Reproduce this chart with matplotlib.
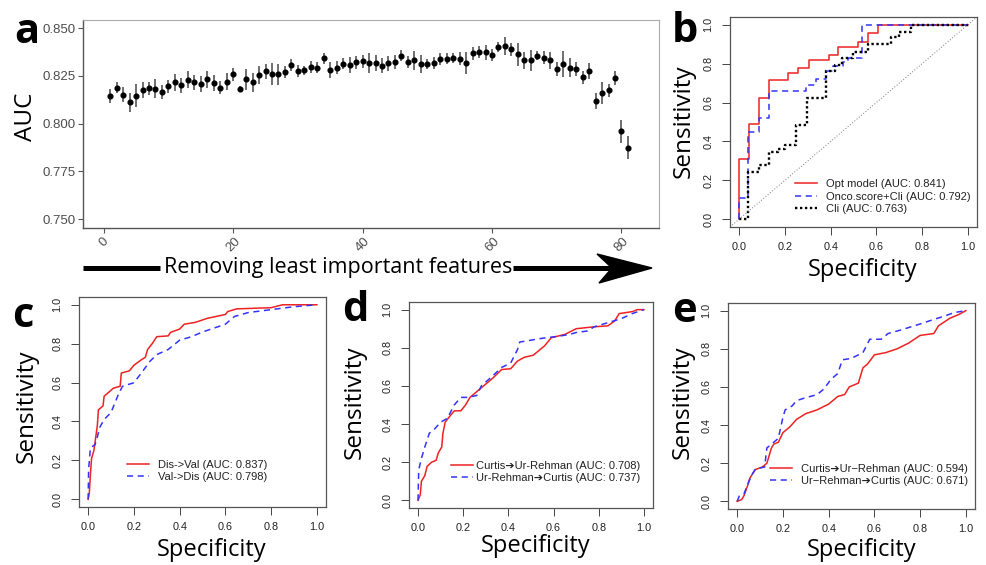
import matplotlib
matplotlib.use("Agg")
import matplotlib.pyplot as plt
from matplotlib.lines import Line2D
from matplotlib.patches import Polygon

# ---------------- data ----------------
n_features = list(range(1, 82))
auc_mean = [0.8146,0.8188,0.8151,0.8111,0.8146,0.8175,0.8184,0.8182,0.8163,0.8194,
            0.8215,0.8200,0.8229,0.8215,0.8207,0.8231,0.8212,0.8188,0.8220,0.8257,
            0.8182,0.8231,0.8215,0.8253,0.8274,0.8260,0.8259,0.8269,0.8306,0.8274,
            0.8278,0.8295,0.8293,0.8342,0.8280,0.8293,0.8314,0.8306,0.8321,0.8325,
            0.8316,0.8319,0.8302,0.8316,0.8321,0.8356,0.8321,0.8330,0.8313,0.8311,
            0.8318,0.8337,0.8340,0.8342,0.8340,0.8319,0.8368,0.8375,0.8373,0.8359,
            0.8403,0.8405,0.8389,0.8363,0.8330,0.8330,0.8356,0.8345,0.8330,0.8286,
            0.8311,0.8293,0.8285,0.8241,0.8274,0.8120,0.8160,0.8174,0.8238,0.7960,0.7873]
auc_err = [0.0037,0.0028,0.0039,0.0050,0.0060,0.0040,0.0033,0.0050,0.0037,0.0035,
           0.0046,0.0040,0.0044,0.0040,0.0042,0.0044,0.0040,0.0035,0.0046,0.0032,
           0.0015,0.0054,0.0050,0.0048,0.0040,0.0057,0.0055,0.0033,0.0030,0.0032,
           0.0022,0.0033,0.0030,0.0028,0.0042,0.0032,0.0028,0.0040,0.0035,0.0035,
           0.0052,0.0042,0.0040,0.0040,0.0037,0.0030,0.0031,0.0048,0.0048,0.0025,
           0.0030,0.0030,0.0030,0.0026,0.0035,0.0058,0.0033,0.0030,0.0040,0.0032,
           0.0026,0.0046,0.0033,0.0060,0.0042,0.0057,0.0024,0.0035,0.0044,0.0035,
           0.0070,0.0052,0.0035,0.0032,0.0042,0.0042,0.0060,0.0035,0.0035,0.0060,0.0060]
a_xticks = [0, 20, 40, 60, 80]
a_yticks = [0.750, 0.775, 0.800, 0.825, 0.850]

# panel b (step curves)
b_opt_x = [0, 0, 0.045, 0.088, 0.13, 0.214, 0.258, 0.304, 0.392, 0.434, 0.52, 0.563, 0.605, 1.0]
b_opt_y = [0, 0.31, 0.49, 0.626, 0.714, 0.754, 0.78, 0.82, 0.844, 0.887, 0.913, 0.957, 1.0, 1.0]
b_onco_x = [0, 0, 0.04, 0.087, 0.13, 0.294, 0.337, 0.378, 0.41, 0.453, 0.475, 0.537, 1.0]
b_onco_y = [0, 0.107, 0.448, 0.522, 0.657, 0.689, 0.72, 0.76, 0.79, 0.81, 0.83, 1.0, 1.0]
b_cli_x = [0, 0.04, 0.087, 0.13, 0.17, 0.2, 0.25, 0.295, 0.378, 0.42, 0.45, 0.5, 0.565, 0.665, 0.7, 0.75, 1.0]
b_cli_y = [0, 0.242, 0.277, 0.348, 0.36, 0.384, 0.483, 0.623, 0.761, 0.794, 0.83, 0.862, 0.9, 0.935, 0.965, 1.0, 1.0]
b_labels = ["Opt model (AUC: 0.841)", "Onco.score+Cli (AUC: 0.792)", "Cli (AUC: 0.763)"]

# panel c
c_red_x = [0,0.005,0.01,0.015,0.025,0.04,0.045,0.065,0.07,0.09,0.11,0.14,0.145,0.18,0.2,0.23,0.25,
           0.26,0.28,0.3,0.35,0.36,0.4,0.42,0.47,0.52,0.56,0.6,0.61,0.65,0.8,0.85,1.0]
c_red_y = [0,0.03,0.13,0.21,0.25,0.377,0.46,0.48,0.53,0.55,0.571,0.581,0.649,0.66,0.689,0.715,0.73,
           0.77,0.80,0.836,0.84,0.858,0.875,0.90,0.91,0.93,0.94,0.95,0.965,0.979,0.985,1.0,1.0]
c_blue_x = [0,0.002,0.01,0.03,0.04,0.05,0.07,0.1,0.13,0.15,0.2,0.23,0.27,0.3,0.35,0.4,0.45,0.5,
            0.6,0.64,0.7,0.8,0.9,1.0]
c_blue_y = [0,0.152,0.265,0.28,0.32,0.368,0.41,0.446,0.533,0.581,0.599,0.645,0.709,0.744,0.77,
            0.818,0.835,0.86,0.9,0.94,0.96,0.975,0.99,1.0]
c_labels = ["Dis->Val (AUC: 0.837)", "Val->Dis (AUC: 0.798)"]

# panel d
d_red_x = [0,0.01,0.015,0.03,0.04,0.06,0.08,0.09,0.105,0.11,0.12,0.14,0.16,0.19,0.21,0.23,0.26,0.29,
           0.33,0.37,0.41,0.44,0.47,0.51,0.56,0.59,0.65,0.7,0.78,0.84,0.87,0.89,0.95,0.97,1.0]
d_red_y = [0,0.03,0.1,0.13,0.178,0.2,0.21,0.25,0.28,0.35,0.41,0.44,0.469,0.47,0.5,0.54,0.57,0.6,
           0.64,0.686,0.69,0.73,0.75,0.761,0.81,0.853,0.87,0.9,0.91,0.915,0.94,0.979,0.99,1.0,1.0]
d_blue_x = [0,0.003,0.015,0.03,0.05,0.07,0.1,0.13,0.16,0.19,0.22,0.26,0.28,0.33,0.37,0.41,0.44,0.45,
            0.5,0.55,0.62,0.67,0.7,0.75,0.78,0.85,0.9,0.95,1.0]
d_blue_y = [0,0.16,0.22,0.28,0.352,0.37,0.41,0.43,0.5,0.54,0.54,0.55,0.6,0.652,0.697,0.72,0.79,0.83,
            0.84,0.85,0.86,0.87,0.88,0.888,0.91,0.935,0.953,0.98,1.0]
d_labels = ["Curtis\u2794Ur-Rehman (AUC: 0.708)", "Ur-Rehman\u2794Curtis (AUC: 0.737)"]

# panel e
e_red_x = [0,0.02,0.03,0.045,0.055,0.07,0.08,0.11,0.13,0.15,0.16,0.18,0.2,0.23,0.26,0.3,0.35,0.4,
           0.44,0.47,0.49,0.53,0.55,0.57,0.6,0.65,0.7,0.75,0.8,0.86,0.88,0.93,0.97,1.0]
e_red_y = [0,0.01,0.03,0.08,0.12,0.15,0.167,0.18,0.2,0.28,0.3,0.31,0.36,0.39,0.43,0.46,0.48,0.51,
           0.55,0.56,0.6,0.62,0.7,0.72,0.768,0.78,0.8,0.83,0.87,0.88,0.92,0.96,0.98,1.0]
e_blue_x = [0,0.01,0.03,0.05,0.065,0.08,0.12,0.13,0.16,0.18,0.2,0.21,0.24,0.26,0.29,0.35,0.38,0.41,
            0.44,0.46,0.5,0.55,0.58,0.63,0.66,0.72,0.8,0.85,0.9,0.95,1.0]
e_blue_y = [0,0.03,0.04,0.1,0.14,0.17,0.18,0.28,0.31,0.33,0.44,0.48,0.5,0.528,0.54,0.56,0.59,0.64,
            0.67,0.742,0.75,0.78,0.85,0.85,0.88,0.9,0.93,0.95,0.969,0.99,1.0]
e_labels = ["Curtis\u2794Ur\u2212Rehman (AUC: 0.594)", "Ur\u2212Rehman\u2794Curtis (AUC: 0.671)"]

roc_ticks = [0.0, 0.2, 0.4, 0.6, 0.8, 1.0]

# ---------------- style ----------------
W, H = 987, 565
RFONT = ["Liberation Sans", "DejaVu Sans"]
BIG = ["Open Sans", "DejaVu Sans"]
RED = "#EE2222"
BLUE = "#3333FF"

fig = plt.figure(figsize=(W / 100, H / 100), dpi=100)


def rect(l, r, t, b):
    return [l / W, 1 - b / H, (r - l) / W, (b - t) / H]


def fx(x):
    return x / W


def fy(y):
    return 1 - y / H


# ---------------- panel a ----------------
axa = fig.add_axes(rect(83, 659, 20, 228))
axa.errorbar(n_features, auc_mean, yerr=auc_err, fmt="o", color="black", ms=3.4,
             ecolor="#555555", elinewidth=1.2, capsize=0)
axa.set_xlim(-3.2, 85.8)
axa.set_ylim(0.7453, 0.8542)
axa.set_xticks(a_xticks)
axa.set_yticks(a_yticks)
axa.set_yticklabels([f"{v:.3f}" for v in a_yticks], family=RFONT, fontsize=9.5, color="#4D4D4D")
axa.set_xticklabels([str(v) for v in a_xticks], family=RFONT, fontsize=9.5, color="#4D4D4D",
                    rotation=45, ha="center", va="top")
axa.tick_params(axis="both", length=3.5, width=0.8, color="#555555", pad=2)
for s in ["left", "bottom"]:
    axa.spines[s].set_color("#555555")
    axa.spines[s].set_linewidth(1.0)
for s in ["top", "right"]:
    axa.spines[s].set_color("#AAAAAA")
    axa.spines[s].set_linewidth(0.8)

fig.text(fx(26), fy(117), "AUC", rotation=90, ha="center", va="center", family=BIG, fontsize=17.5)
fig.text(fx(338), fy(268), "Removing least important features", ha="center", va="center",
         family=BIG, fontsize=15.5)
fig.add_artist(Line2D([fx(83), fx(160)], [fy(268), fy(268)], color="black", lw=3.6,
                      solid_capstyle="butt"))
fig.add_artist(Line2D([fx(513), fx(615)], [fy(268), fy(268)], color="black", lw=3.6,
                      solid_capstyle="butt"))
fig.add_artist(Polygon([(fx(597), fy(254)), (fx(652), fy(268)), (fx(599), fy(283)), (fx(612), fy(268))],
                       closed=True, facecolor="black", edgecolor="black", transform=fig.transFigure))


# ---------------- ROC helper ----------------
def roc_axes(r):
    ax = fig.add_axes(r)
    ax.set_xlim(-0.04, 1.04)
    ax.set_ylim(-0.04, 1.04)
    ax.set_xticks(roc_ticks)
    ax.set_yticks(roc_ticks)
    ax.set_xticklabels([f"{v:.1f}" for v in roc_ticks], family=RFONT, fontsize=7.8, color="#222222")
    ax.set_yticklabels([f"{v:.1f}" for v in roc_ticks], family=RFONT, fontsize=7.8, color="#222222",
                       rotation=90, va="center")
    ax.tick_params(axis="x", length=6, width=0.7, color="#444444", pad=4.5)
    ax.tick_params(axis="y", length=6, width=0.7, color="#444444", pad=6)
    for s in ax.spines.values():
        s.set_color("#555555")
        s.set_linewidth(0.9)
    return ax


def legend(ax, labels, x, y, textpad=0.8):
    leg = ax.legend(labels=labels, handles=ax.get_lines()[:len(labels)], loc="center left",
                    bbox_to_anchor=(x, y), frameon=False, borderpad=0, borderaxespad=0,
                    handlelength=2.0, handletextpad=textpad, labelspacing=0.22,
                    prop={"family": RFONT, "size": 8})
    for t in leg.get_texts():
        t.set_color("#222222")
    return leg


def labels(sx, sy, px, py):
    fig.text(fx(sx), fy(sy), "Sensitivity", rotation=90, ha="center", va="center",
             family=BIG, fontsize=17.5)
    fig.text(fx(px), fy(py), "Specificity", ha="center", va="baseline", family=BIG, fontsize=17)


# ---------------- panel b ----------------
axb = roc_axes(rect(730, 977, 17, 227))
axb.plot(b_opt_x, b_opt_y, drawstyle="steps-post", color=RED, lw=1.1)
axb.plot(b_onco_x, b_onco_y, drawstyle="steps-post", color=BLUE, lw=1.1, dashes=(4, 3))
axb.plot(b_cli_x, b_cli_y, drawstyle="steps-post", color="black", lw=1.7, dashes=(1, 1.1))
axb.axline((0, 0), (1, 1), color="#777777", lw=0.7, ls=(0, (1, 2)))
legend(axb, b_labels, 0.263, 0.145)
labels(684, 121, 863, 276)

# ---------------- panel c ----------------
axc = roc_axes(rect(79, 326, 297, 507))
axc.plot(c_red_x, c_red_y, color=RED, lw=1.1)
axc.plot(c_blue_x, c_blue_y, color=BLUE, lw=1.1, dashes=(4, 3))
legend(axc, c_labels, 0.194, 0.171)
labels(27, 406, 212, 556)

# ---------------- panel d ----------------
axd = roc_axes(rect(409, 653, 302, 508))
axd.plot(d_red_x, d_red_y, color=RED, lw=1.1)
axd.plot(d_blue_x, d_blue_y, color=BLUE, lw=1.1, dashes=(4, 3))
legend(axd, d_labels, 0.171, 0.175, textpad=0.3)
labels(355, 402, 536, 552)

# ---------------- panel e ----------------
axe = roc_axes(rect(728, 975, 303, 509))
axe.plot(e_red_x, e_red_y, color=RED, lw=1.1)
axe.plot(e_blue_x, e_blue_y, color=BLUE, lw=1.1, dashes=(4, 3))
legend(axe, e_labels, 0.170, 0.165)
labels(683, 402, 862, 556)

# ---------------- panel letters ----------------
for letter, x, y in [("a", 14, 43), ("b", 672, 42), ("c", 12, 327), ("d", 342, 321), ("e", 672, 322)]:
    fig.text(fx(x), fy(y), letter, ha="left", va="baseline", family=BIG, fontsize=30,
             fontweight="bold")

fig.savefig("out.png", dpi=100)
